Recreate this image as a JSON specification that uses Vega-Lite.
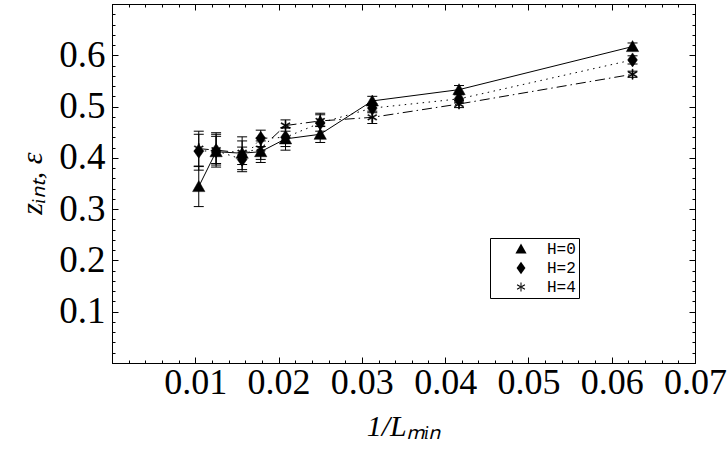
{
  "$schema": "https://vega.github.io/schema/vega-lite/v6.json",
  "width": 583,
  "height": 359,
  "autosize": {"type": "none"},
  "padding": {"left": 112, "top": 4, "right": 33, "bottom": 86},
  "background": "white",
  "config": {
    "view": {"stroke": "black", "strokeWidth": 1},
    "axis": {"grid": false, "domainColor": "black", "tickColor": "black", "labelColor": "black", "titleColor": "black", "domainWidth": 1, "tickWidth": 1}
  },
  "data": {
    "values": [
      {"H": "H=0", "x": 0.0104167, "z": 0.344, "lo": 0.305, "hi": 0.383},
      {"H": "H=0", "x": 0.0125, "z": 0.412, "lo": 0.382, "hi": 0.442},
      {"H": "H=0", "x": 0.015625, "z": 0.409, "lo": 0.377, "hi": 0.441},
      {"H": "H=0", "x": 0.0178571, "z": 0.412, "lo": 0.391, "hi": 0.433},
      {"H": "H=0", "x": 0.0208333, "z": 0.437, "lo": 0.415, "hi": 0.459},
      {"H": "H=0", "x": 0.025, "z": 0.446, "lo": 0.43, "hi": 0.462},
      {"H": "H=0", "x": 0.03125, "z": 0.511, "lo": 0.502, "hi": 0.52},
      {"H": "H=0", "x": 0.0416667, "z": 0.533, "lo": 0.525, "hi": 0.541},
      {"H": "H=0", "x": 0.0625, "z": 0.617, "lo": 0.61, "hi": 0.624},
      {"H": "H=2", "x": 0.0104167, "z": 0.413, "lo": 0.376, "hi": 0.452},
      {"H": "H=2", "x": 0.0125, "z": 0.414, "lo": 0.386, "hi": 0.446},
      {"H": "H=2", "x": 0.015625, "z": 0.397, "lo": 0.373, "hi": 0.421},
      {"H": "H=2", "x": 0.0178571, "z": 0.438, "lo": 0.422, "hi": 0.454},
      {"H": "H=2", "x": 0.0208333, "z": 0.44, "lo": 0.422, "hi": 0.458},
      {"H": "H=2", "x": 0.025, "z": 0.468, "lo": 0.452, "hi": 0.484},
      {"H": "H=2", "x": 0.03125, "z": 0.497, "lo": 0.488, "hi": 0.506},
      {"H": "H=2", "x": 0.0416667, "z": 0.515, "lo": 0.507, "hi": 0.523},
      {"H": "H=2", "x": 0.0625, "z": 0.591, "lo": 0.583, "hi": 0.599},
      {"H": "H=4", "x": 0.0104167, "z": 0.418, "lo": 0.384, "hi": 0.446},
      {"H": "H=4", "x": 0.0125, "z": 0.415, "lo": 0.389, "hi": 0.449},
      {"H": "H=4", "x": 0.015625, "z": 0.41, "lo": 0.387, "hi": 0.433},
      {"H": "H=4", "x": 0.0178571, "z": 0.418, "lo": 0.397, "hi": 0.439},
      {"H": "H=4", "x": 0.0208333, "z": 0.463, "lo": 0.452, "hi": 0.474},
      {"H": "H=4", "x": 0.025, "z": 0.472, "lo": 0.461, "hi": 0.487},
      {"H": "H=4", "x": 0.03125, "z": 0.479, "lo": 0.467, "hi": 0.491},
      {"H": "H=4", "x": 0.0416667, "z": 0.505, "lo": 0.498, "hi": 0.512},
      {"H": "H=4", "x": 0.0625, "z": 0.563, "lo": 0.557, "hi": 0.569}
    ]
  },
  "layer": [
    {
      "transform": [{"filter": "datum.H == 'H=0'"}],
      "mark": {"type": "line", "stroke": "black", "strokeWidth": 1},
      "encoding": {
        "x": {
          "field": "x", "type": "quantitative",
          "scale": {"domain": [0, 0.07], "nice": false, "zero": false},
          "axis": {
            "orient": "bottom",
            "values": [0, 0.002, 0.004, 0.006, 0.008, 0.01, 0.012, 0.014, 0.016, 0.018, 0.02, 0.022, 0.024, 0.026, 0.028, 0.03, 0.032, 0.034, 0.036, 0.038, 0.04, 0.042, 0.044, 0.046, 0.048, 0.05, 0.052, 0.054, 0.056, 0.058, 0.06, 0.062, 0.064, 0.066, 0.068, 0.07],
            "tickSize": {"condition": {"test": "abs(datum.value*100 - round(datum.value*100)) < 0.01", "value": -6}, "value": -3},
            "labelExpr": "abs(datum.value*100 - round(datum.value*100)) < 0.01 && datum.value > 0.001 ? format(datum.value, '.2f') : ''",
            "labelFont": "Liberation Serif", "labelFontSize": 36,
            "labelBaseline": "alphabetic", "labelPadding": 36,
            "labelFlush": false, "labelOverlap": false, "labelBound": false,
            "title": "1/Lₘᵢₙ", "titleFont": "Liberation Serif", "titleFontSize": 30, "titleFontStyle": "italic", "titleFontWeight": "normal",
            "titleBaseline": "alphabetic", "titleY": 72
          }
        },
        "y": {
          "field": "z", "type": "quantitative",
          "scale": {"domain": [0, 0.7], "nice": false, "zero": false},
          "axis": {
            "orient": "left",
            "values": [0, 0.02, 0.04, 0.06, 0.08, 0.1, 0.12, 0.14, 0.16, 0.18, 0.2, 0.22, 0.24, 0.26, 0.28, 0.3, 0.32, 0.34, 0.36, 0.38, 0.4, 0.42, 0.44, 0.46, 0.48, 0.5, 0.52, 0.54, 0.56, 0.58, 0.6, 0.62, 0.64, 0.66, 0.68, 0.7],
            "tickSize": {"condition": {"test": "abs(datum.value*10 - round(datum.value*10)) < 0.001", "value": -6}, "value": -3},
            "labelExpr": "abs(datum.value*10 - round(datum.value*10)) < 0.001 && datum.value > 0.05 && datum.value < 0.65 ? format(datum.value, '.1f') : ''",
            "labelFont": "Liberation Serif", "labelFontSize": 37,
            "labelPadding": 13, "labelBaseline": "middle",
            "labelFlush": false, "labelOverlap": false, "labelBound": false,
            "title": "zᵢₙₜ, ε", "titleFont": "Liberation Serif", "titleFontSize": 30, "titleFontStyle": "italic", "titleFontWeight": "normal",
            "titleAngle": -90, "titleBaseline": "alphabetic", "titleAlign": "center", "titleX": -71, "titleY": 179
          }
        }
      }
    },
    {
      "transform": [{"filter": "datum.H == 'H=2'"}],
      "mark": {"type": "line", "stroke": "black", "strokeWidth": 1, "strokeDash": [1.5, 4.5]},
      "encoding": {
        "x": {"field": "x", "type": "quantitative", "axis": null},
        "y": {"field": "z", "type": "quantitative", "axis": null}
      }
    },
    {
      "transform": [{"filter": "datum.H == 'H=4'"}],
      "mark": {"type": "line", "stroke": "black", "strokeWidth": 1, "strokeDash": [10, 4, 1.5, 4]},
      "encoding": {
        "x": {"field": "x", "type": "quantitative", "axis": null},
        "y": {"field": "z", "type": "quantitative", "axis": null}
      }
    },
    {
      "mark": {"type": "rule", "stroke": "black", "strokeWidth": 1},
      "encoding": {
        "x": {
          "field": "x", "type": "quantitative",
          "axis": {
            "orient": "top",
            "values": [0, 0.002, 0.004, 0.006, 0.008, 0.01, 0.012, 0.014, 0.016, 0.018, 0.02, 0.022, 0.024, 0.026, 0.028, 0.03, 0.032, 0.034, 0.036, 0.038, 0.04, 0.042, 0.044, 0.046, 0.048, 0.05, 0.052, 0.054, 0.056, 0.058, 0.06, 0.062, 0.064, 0.066, 0.068, 0.07],
            "tickSize": {"condition": {"test": "abs(datum.value*100 - round(datum.value*100)) < 0.01", "value": -6}, "value": -3},
            "labels": false, "title": null
          }
        },
        "y": {
          "field": "lo", "type": "quantitative",
          "axis": {
            "orient": "right",
            "values": [0, 0.02, 0.04, 0.06, 0.08, 0.1, 0.12, 0.14, 0.16, 0.18, 0.2, 0.22, 0.24, 0.26, 0.28, 0.3, 0.32, 0.34, 0.36, 0.38, 0.4, 0.42, 0.44, 0.46, 0.48, 0.5, 0.52, 0.54, 0.56, 0.58, 0.6, 0.62, 0.64, 0.66, 0.68, 0.7],
            "tickSize": {"condition": {"test": "abs(datum.value*10 - round(datum.value*10)) < 0.001", "value": -6}, "value": -3},
            "labels": false, "title": null
          }
        },
        "y2": {"field": "hi"}
      }
    },
    {
      "mark": {"type": "point", "shape": "M-1,0L1,0", "size": 100, "stroke": "black", "strokeWidth": 1, "filled": false, "opacity": 1},
      "encoding": {
        "x": {"field": "x", "type": "quantitative", "axis": null},
        "y": {"field": "lo", "type": "quantitative", "axis": null}
      }
    },
    {
      "mark": {"type": "point", "shape": "M-1,0L1,0", "size": 100, "stroke": "black", "strokeWidth": 1, "filled": false, "opacity": 1},
      "encoding": {
        "x": {"field": "x", "type": "quantitative", "axis": null},
        "y": {"field": "hi", "type": "quantitative", "axis": null}
      }
    },
    {
      "mark": {"type": "point", "size": 196, "filled": true, "color": "black", "stroke": "black", "strokeWidth": 0.5, "opacity": 1},
      "encoding": {
        "x": {"field": "x", "type": "quantitative", "axis": null},
        "y": {"field": "z", "type": "quantitative", "axis": null},
        "shape": {
          "field": "H", "type": "nominal",
          "scale": {"domain": ["H=0", "H=2", "H=4"], "range": [
            "M0,-0.85L0.88,0.72L-0.88,0.72Z",
            "M0,-1L0.7,0L0,1L-0.7,0Z",
            "M-0.08,-0.72L0.08,-0.72L0.08,0.72L-0.08,0.72ZM0.58,0.42L0.66,0.29L-0.58,-0.42L-0.66,-0.29ZM0.66,-0.29L0.58,-0.42L-0.66,0.29L-0.58,0.42Z"
          ]},
          "legend": {
            "orient": "none", "legendX": 378, "legendY": 234,
            "title": null,
            "strokeColor": "black", "fillColor": "white",
            "padding": 3, "symbolOffset": 20, "labelOffset": 18, "rowPadding": 3,
            "symbolSize": 160, "symbolFillColor": "black", "symbolStrokeColor": "black", "symbolStrokeWidth": 0.5,
            "labelFont": "Liberation Mono", "labelFontSize": 16, "labelColor": "black"
          }
        }
      }
    }
  ],
  "resolve": {"axis": {"x": "independent", "y": "independent"}}
}
